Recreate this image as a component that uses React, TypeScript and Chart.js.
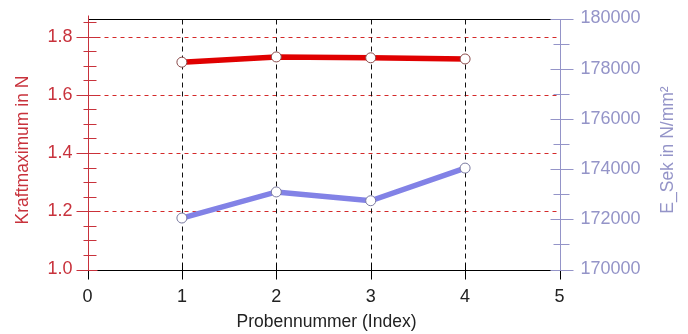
import React, { useEffect, useRef } from "react";
import { Chart, registerables } from "chart.js";

Chart.register(...registerables);

const probeIndex = [1, 2, 3, 4];
const kraftMaximum = [1.712, 1.73, 1.727, 1.723];
const eSek = [172050, 173090, 172740, 174040];

const xTicks = [0, 1, 2, 3, 4, 5];
const leftTicks = [1.0, 1.2, 1.4, 1.6, 1.8];
const rightTicks = [170000, 172000, 174000, 176000, 178000, 180000];

const xTitle = "Probennummer (Index)";
const leftTitle = "Kraftmaximum in N";
const rightTitle = "E_Sek in N/mm²";

const FONT = "'Liberation Sans', Arial, sans-serif";
const FS = 18;
const TFS = 17.5;
const RED_AX = "#c8323c";
const BLUE_AX = "#9494c8";

const framePlugin = {
  id: "framePlugin",
  beforeDatasetsDraw(chart: any) {
    const { ctx, chartArea: a, scales } = chart;
    const sx = scales.x, yl = scales.y, yr = scales.y1;
    const L = Math.round(a.left) + 0.5;
    const R = Math.round(a.right) + 0.5;
    const T = Math.round(a.top) + 0.5;
    const B = Math.round(a.bottom) + 0.5;
    ctx.save();
    ctx.lineWidth = 1;
    ctx.setLineDash([4, 4]);
    ctx.strokeStyle = "#d42a2a";
    for (const v of leftTicks) {
      if (v <= yl.min) continue;
      const py = Math.round(yl.getPixelForValue(v)) + 0.5;
      ctx.beginPath();
      ctx.moveTo(L, py);
      ctx.lineTo(R, py);
      ctx.stroke();
    }
    ctx.setLineDash([5, 4]);
    ctx.strokeStyle = "#111";
    for (const v of xTicks) {
      if (v <= sx.min || v >= sx.max) continue;
      const px = Math.round(sx.getPixelForValue(v)) + 0.5;
      ctx.beginPath();
      ctx.moveTo(px, T);
      ctx.lineTo(px, B);
      ctx.stroke();
    }
    ctx.setLineDash([]);
    ctx.strokeStyle = "#000";
    ctx.beginPath();
    ctx.moveTo(L, T);
    ctx.lineTo(R, T);
    ctx.moveTo(L, B);
    ctx.lineTo(R, B);
    ctx.stroke();
    ctx.beginPath();
    for (const v of xTicks) {
      const px = Math.round(sx.getPixelForValue(v)) + 0.5;
      ctx.moveTo(px, B - 7);
      ctx.lineTo(px, B + 9);
    }
    ctx.stroke();
    ctx.strokeStyle = RED_AX;
    ctx.beginPath();
    ctx.moveTo(L, T - 4);
    ctx.lineTo(L, B);
    for (let i = 0; i <= 17; i++) {
      const v = 1.0 + i * 0.05;
      const py = Math.round(yl.getPixelForValue(v)) + 0.5;
      const major = i % 4 === 0;
      ctx.moveTo(major ? L - 12 : L - 5, py);
      ctx.lineTo(major ? L + 9 : L + 8, py);
    }
    ctx.stroke();
    ctx.strokeStyle = BLUE_AX;
    ctx.beginPath();
    ctx.moveTo(R, T);
    ctx.lineTo(R, B);
    for (let i = 0; i <= 10; i++) {
      const v = 170000 + i * 1000;
      const py = Math.round(yr.getPixelForValue(v)) + 0.5;
      const major = i % 2 === 0;
      ctx.moveTo(major ? R - 10 : R - 7, py);
      ctx.lineTo(major ? R + 13 : R + 9, py);
    }
    ctx.stroke();
    ctx.font = `${TFS}px ${FONT}`;
    ctx.textAlign = "center";
    ctx.textBaseline = "middle";
    ctx.fillStyle = "#222";
    ctx.fillText(xTitle, (sx.getPixelForValue(0) + sx.getPixelForValue(5)) / 2 + 3, 322);
    ctx.save();
    ctx.translate(23, 150);
    ctx.rotate(-Math.PI / 2);
    ctx.fillStyle = RED_AX;
    ctx.fillText(leftTitle, 0, 0);
    ctx.restore();
    ctx.save();
    ctx.translate(668, 150);
    ctx.rotate(-Math.PI / 2);
    ctx.fillStyle = BLUE_AX;
    ctx.fillText(rightTitle, 0, 0);
    ctx.restore();
    ctx.restore();
  },
};

const noPadV = (s: any) => {
  s.paddingTop = 0;
  s.paddingBottom = 0;
};

export default function App() {
  const ref = useRef<HTMLCanvasElement | null>(null);
  useEffect(() => {
    document.body.style.margin = "0";
    const canvas = ref.current!;
    const chart = new Chart(canvas, {
      type: "line",
      data: {
        datasets: [
          {
            label: leftTitle,
            data: probeIndex.map((x, i) => ({ x, y: kraftMaximum[i] })),
            yAxisID: "y",
            borderColor: "#e00000",
            borderWidth: 5.5,
            pointRadius: 5,
            pointBackgroundColor: "#fff",
            pointBorderColor: "#8a4a4a",
            pointBorderWidth: 1,
            tension: 0,
          },
          {
            label: rightTitle,
            data: probeIndex.map((x, i) => ({ x, y: eSek[i] })),
            yAxisID: "y1",
            borderColor: "#8282e6",
            borderWidth: 5.5,
            pointRadius: 5,
            pointBackgroundColor: "#fff",
            pointBorderColor: "#7a7aa0",
            pointBorderWidth: 1,
            tension: 0,
          },
        ],
      },
      options: {
        animation: false,
        responsive: false,
        devicePixelRatio: 1,
        layout: { padding: { top: 18.5, left: 0, right: 0, bottom: 0 } },
        plugins: { legend: { display: false }, tooltip: { enabled: false } },
        scales: {
          x: {
            type: "linear",
            min: 0,
            max: 5,
            afterBuildTicks: (s: any) => {
              s.ticks = xTicks.map((v) => ({ value: v }));
            },
            afterFit: (s: any) => {
              s.height = 64.5;
              s.paddingLeft = 0;
              s.paddingRight = 0;
            },
            grid: { display: false, drawTicks: false },
            border: { display: false },
            ticks: {
              padding: 17,
              color: "#222",
              font: { family: FONT, size: FS },
              maxRotation: 0,
            },
          },
          y: {
            type: "linear",
            position: "left",
            min: 1.0,
            max: 1.862,
            afterBuildTicks: (s: any) => {
              s.ticks = leftTicks.map((v) => ({ value: v }));
            },
            afterFit: (s: any) => {
              s.width = 87.5;
              noPadV(s);
            },
            grid: { display: false, drawTicks: false },
            border: { display: false },
            ticks: {
              padding: 15,
              color: RED_AX,
              font: { family: FONT, size: FS },
              callback: (v: any) => Number(v).toFixed(1),
            },
          },
          y1: {
            type: "linear",
            position: "right",
            min: 170000,
            max: 180000,
            afterBuildTicks: (s: any) => {
              s.ticks = rightTicks.map((v) => ({ value: v }));
            },
            afterFit: (s: any) => {
              s.width = 128.5;
              noPadV(s);
            },
            grid: { display: false, drawTicks: false },
            border: { display: false },
            ticks: {
              padding: 21,
              color: BLUE_AX,
              font: { family: FONT, size: FS },
              callback: (v: any) => String(v),
            },
          },
        },
      },
      plugins: [framePlugin],
    });
    return () => chart.destroy();
  }, []);
  return <canvas ref={ref} width={688} height={334} style={{ display: "block", width: 688, height: 334 }} />;
}
